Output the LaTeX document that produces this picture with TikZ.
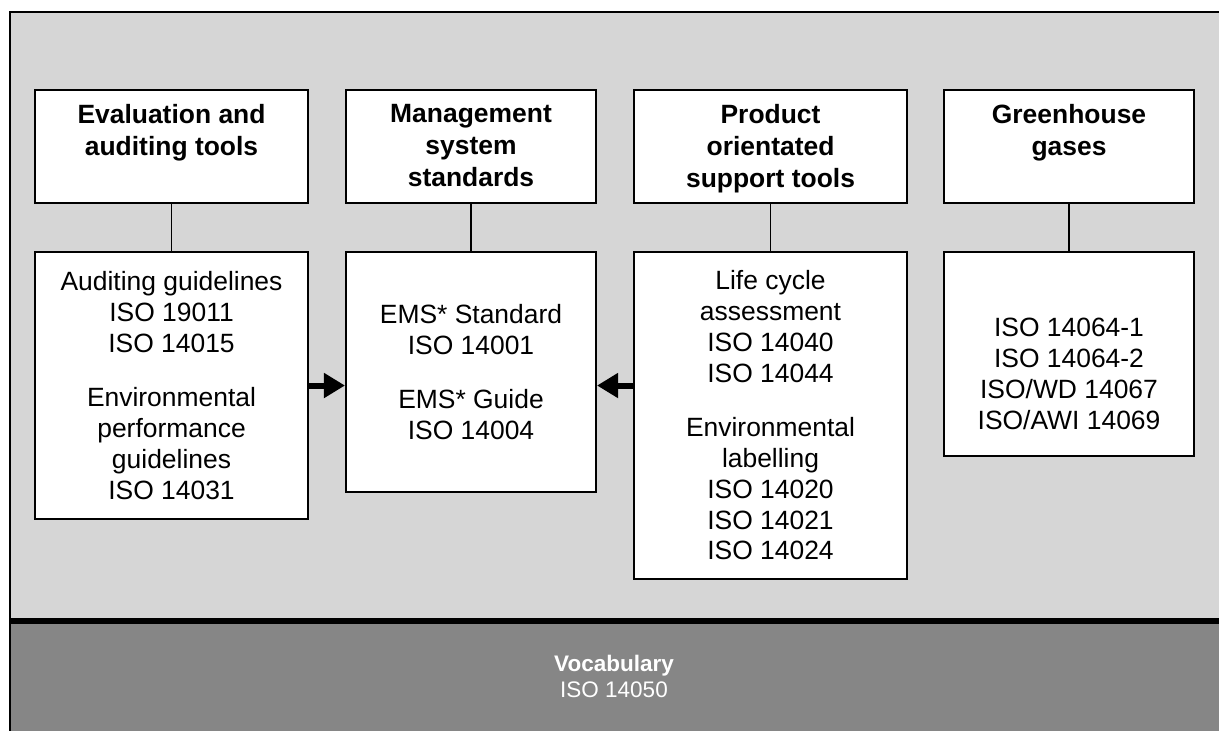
\documentclass[tikz,border=0pt]{standalone}
\usepackage{fontspec}
\setmainfont{Liberation Sans}
\usetikzlibrary{arrows.meta,positioning}
\definecolor{panelgray}{HTML}{D6D6D6}
\definecolor{bandgray}{HTML}{868686}

\tikzset{
  box/.style={draw, line width=1.4pt, fill=white, inner sep=0pt, anchor=north west},
  headtext/.style={font=\fontsize{18.8}{22.8}\selectfont\bfseries, align=center, inner sep=0pt, anchor=north},
  bodytext/.style={font=\fontsize{18.8}{22}\selectfont, align=center, inner sep=0pt},
  link/.style={line width=0.8pt},
  feed/.style={line width=4.3pt, -{Triangle[length=15pt,width=17pt]}},
}

\begin{document}
\begin{tikzpicture}[x=0.025cm, y=-0.025cm]
  \useasboundingbox (0,0) rectangle (1219,731);

  % ── Background panels ──
  \fill[panelgray] (10,12) rectangle (1219,621);
  \fill[bandgray] (10,621) rectangle (1219,731);
  \draw[line width=1.5pt] (1219,12) -- (10,12) -- (10,731);
  \draw[line width=3.6pt] (10,621) -- (1219,621);

  % ── Heading boxes ──
  \node[box, minimum width=6.825cm, minimum height=2.825cm] (t1) at (34,89) {};
  \node[box, minimum width=6.25cm, minimum height=2.825cm] (t2) at (345,89) {};
  \node[box, minimum width=6.825cm, minimum height=2.825cm] (t3) at (633,89) {};
  \node[box, minimum width=6.25cm, minimum height=2.825cm] (t4) at (943,89) {};

  \node[headtext, below=0.375cm of t1.north] (h1) {Evaluation and\\auditing tools};
  \node[headtext, below=0.375cm of t2.north] (h2) {Management\\system\\standards};
  \node[headtext, below=0.375cm of t3.north] (h3) {Product\\orientated\\support tools};
  \node[headtext, below=0.375cm of t4.north] (h4) {Greenhouse\\gases};

  % ── Standards boxes ──
  \node[box, minimum width=6.825cm, minimum height=6.675cm] (l1) at (34,251) {};
  \node[box, minimum width=6.25cm, minimum height=6.0cm] (l2) at (345,251) {};
  \node[box, minimum width=6.825cm, minimum height=8.175cm] (l3) at (633,251) {};
  \node[box, minimum width=6.25cm, minimum height=5.1cm] (l4) at (943,251) {};

  \node[bodytext] (s1) at (l1.center)
    {Auditing guidelines\\ISO 19011\\ISO 14015\\[16pt]Environmental\\performance\\guidelines\\ISO 14031};
  \node[bodytext] (s2) at (l2.center)
    {EMS* Standard\\ISO 14001\\[16pt]EMS* Guide\\ISO 14004};
  \node[bodytext] (s3) at (l3.center)
    {Life cycle\\assessment\\ISO 14040\\ISO 14044\\[16pt]Environmental\\labelling\\ISO 14020\\ISO 14021\\ISO 14024};
  \node[bodytext, yshift=-0.5cm] (s4) at (l4.center)
    {ISO 14064-1\\ISO 14064-2\\ISO/WD 14067\\ISO/AWI 14069};

  % links between heading and standards
  \foreach \i in {1,...,4}
    \draw[link] (t\i.south) -- (l\i.north);

  % feeds into the management system
  \draw[feed] (l1.east) -- (l1.east -| l2.west);
  \draw[feed] (l3.west |- l1.east) -- (l2.east |- l1.east);

  % ── Vocabulary band ──
  \node[font=\fontsize{16}{18.5}\selectfont, text=white, align=center] (vocab) at (614,676)
    {\textbf{Vocabulary}\\ISO 14050};
\end{tikzpicture}
\end{document}
